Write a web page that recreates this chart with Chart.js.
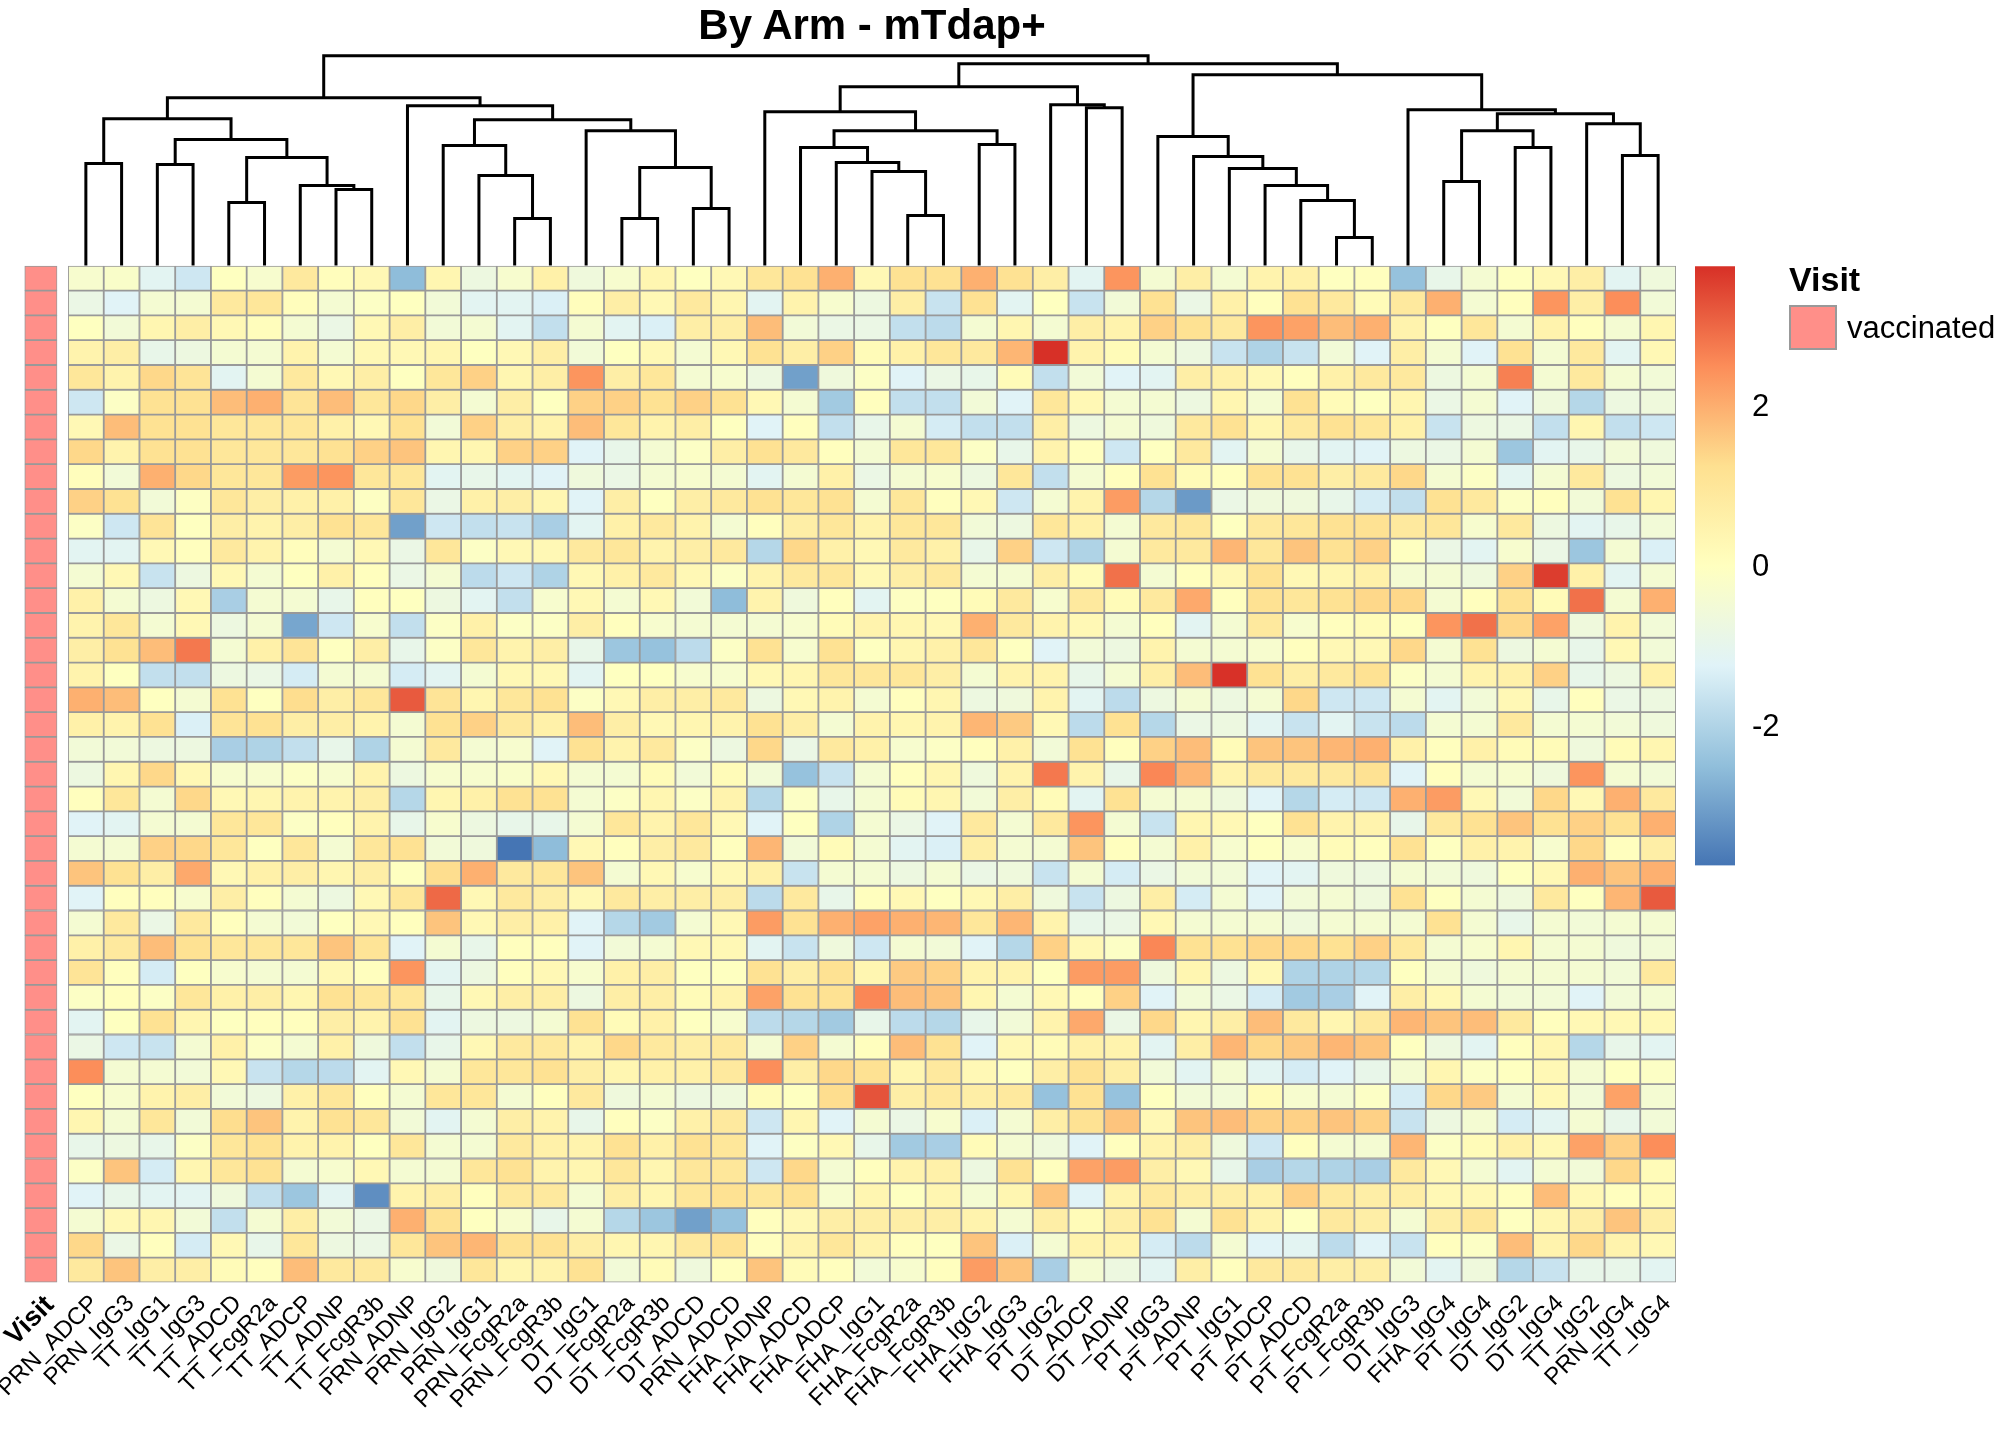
<!DOCTYPE html>
<html>
<head>
<meta charset="utf-8">
<script src="https://cdn.jsdelivr.net/npm/chart.js@4.4.1/dist/chart.umd.min.js"></script>
<style>
  html, body { margin: 0; padding: 0; background: #fff; }
  #page { position: relative; width: 2016px; height: 1440px; overflow: hidden;
          font-family: 'Liberation Sans', Arial, sans-serif; color: #000; }
  #page canvas { position: absolute; left: 0; top: 0; }
  .title { position: absolute; left: 0; width: 1744px; top: 3px; line-height: 44px;
           text-align: center; font-weight: bold; font-size: 42px; }
  .legTitle { position: absolute; left: 1789px; top: 260px; line-height: 38px;
              font-weight: bold; font-size: 34px; }
  .legKey { position: absolute; left: 1789px; top: 305px; width: 48px; height: 45px;
            box-sizing: border-box; border: 2px solid #999999; background: #FF8F89; }
  .legText { position: absolute; left: 1847px; top: 310px; line-height: 36px; font-size: 31px; }
</style>
</head>
<body>
<div id="page">
  <canvas id="dendro" width="2016" height="1440"></canvas>
  <canvas id="annot" width="2016" height="1440"></canvas>
  <canvas id="heat" width="2016" height="1440"></canvas>
  <canvas id="scale" width="2016" height="1440"></canvas>
  <div class="title">By Arm - mTdap+</div>
  <div class="legTitle">Visit</div>
  <div class="legKey"></div>
  <div class="legText">vaccinated</div>
</div>
<script>
// column names, in dendrogram order
const colNames = ['PRN_ADCP', 'PRN_IgG3', 'TT_IgG1', 'TT_IgG3', 'TT_ADCD', 'TT_FcgR2a', 'TT_ADCP', 'TT_ADNP',
  'TT_FcgR3b', 'PRN_ADNP', 'PRN_IgG2', 'PRN_IgG1', 'PRN_FcgR2a', 'PRN_FcgR3b', 'DT_IgG1', 'DT_FcgR2a',
  'DT_FcgR3b', 'DT_ADCD', 'PRN_ADCD', 'FHA_ADNP', 'FHA_ADCD', 'FHA_ADCP', 'FHA_IgG1', 'FHA_FcgR2a',
  'FHA_FcgR3b', 'FHA_IgG2', 'FHA_IgG3', 'PT_IgG2', 'DT_ADCP', 'DT_ADNP', 'PT_IgG3', 'PT_ADNP', 'PT_IgG1',
  'PT_ADCP', 'PT_ADCD', 'PT_FcgR2a', 'PT_FcgR3b', 'DT_IgG3', 'FHA_IgG4', 'PT_IgG4', 'DT_IgG2', 'DT_IgG4',
  'TT_IgG2', 'PRN_IgG4', 'TT_IgG4'];

const annotLabel = ['Visit'];
const visitLevel = 'vaccinated';

// scaled values, one array per row (top to bottom)
const s01 = [-0.3,-0.2,-1.1,-1.5,0,-0.3,0.9,0.1,0.3,-2.5,0.4,-0.7,-0.3,0.6,-0.6, -0.3,0.4,0,0.3,1.0,1.2,2.0,0.3,1.2,1.2,2.0,1.2,0.7,-1.1,2.4, -0.4,0.7,-0.4,0.5,0.6,0,0.05,-2.4,-0.9,-0.4,0,0.3,0.7,-1.1,-0.6];
const s02 = [-0.8,-1.2,-0.4,-0.4,0.9,1.0,0.1,-0.4,-0.1,0,-0.5,-1.1,-1.1,-1.3,0.1, 0.7,0.3,0.9,0.4,-1.1,0.5,-0.3,-0.7,0.7,-1.6,1.2,-1.1,0,-1.6,-0.5, 1.2,-0.8,0.6,0.05,1.2,0.9,0.2,0.9,2.0,-0.4,0.05,2.4,0.7,2.5,-0.5];
const s03 = [0,-0.5,0.4,0.7,0.3,0.1,-0.4,-0.8,0.3,0.7,-0.5,-0.4,-1.1,-1.7,-0.4, -1.1,-1.3,0.7,0.7,1.8,-0.5,-0.8,-0.8,-1.7,-1.8,-0.4,0.4,-0.4,0.7,0.5, 1.5,1.2,0.9,2.4,2.2,1.8,2.0,0.5,0,1.0,-0.4,0.5,0.05,-0.4,0.4];
const s04 = [0.5,0.7,-0.9,-0.7,-0.4,-0.4,0.5,-0.4,0.3,0.3,0.4,0,0.3,0.7,-0.5, 0,0.3,-0.4,0.3,1.2,0.7,1.5,0.2,0.6,1.0,0.9,1.9,3.77,0.5,0.2, -0.4,-0.7,-1.6,-2.0,-1.6,-0.5,-1.2,0.7,-0.4,-1.2,1.2,-0.4,0.9,-1.1,0.3];
const s05 = [1.0,0.5,1.4,1.1,-1.1,-0.4,0.9,0.3,0.7,0,1.0,1.5,0.4,0.7,2.4, 0.7,1.0,-0.4,-0.3,-0.7,-3.0,-0.6,-0.1,-1.2,-0.8,-0.9,0.2,-1.7,-0.5,-1.2, -1.1,0.7,0.6,0.3,0.05,0.6,0.9,0.9,-0.7,-0.4,2.7,-0.4,0.9,-0.4,-0.5];
const s06 = [-1.5,-0.1,1.2,1.2,1.8,2.0,1.1,1.8,1.0,1.4,0.7,-0.4,0.7,0,1.5, 1.5,1.2,1.5,1.2,0.3,-0.4,-2.2,0.05,-1.7,-1.7,-0.5,-1.2,1.0,0.3,-0.4, -0.4,-0.7,0.4,-0.4,1.2,0.2,0,0.4,-0.8,-0.4,-1.2,-0.6,-1.9,-0.7,-0.6];
const s07 = [0.3,1.8,1.2,1.2,1.0,1.0,1.0,0.6,0.3,1.2,-0.5,1.5,0.7,0.5,1.8, 1.0,0.5,0.7,0,-1.2,0.05,-1.7,-0.9,-0.4,-1.4,-1.7,-1.7,0.7,-0.7,-0.4, -0.6,0.9,1.2,0.4,0.9,1.2,1.0,0.6,-1.6,-0.7,-0.8,-1.7,0.4,-1.7,-1.5];
const s08 = [1.4,0.5,1.2,1.2,1.0,1.0,1.0,1.2,1.5,1.7,0.4,0.4,1.5,1.5,-1.2, -0.9,-0.4,-0.1,0.7,1.2,0.9,0.05,-0.4,1.0,1.0,-0.1,-0.9,0.5,0.05,-1.5, 0,0.9,-1.1,-0.4,-0.9,-1.1,-1.2,-0.7,-0.8,-0.4,-2.3,-1.1,-0.9,-0.5,-0.6];
const s09 = [0.1,-0.5,2.0,1.4,1.0,1.0,2.3,2.4,1.0,1.0,-1.1,-0.9,-1.1,-1.2,-0.6, -0.8,-0.4,-0.3,-0.4,-1.1,-0.4,0.6,-0.8,-0.4,-0.3,-0.7,1.0,-1.7,-0.4,0.05, 1.2,0.2,0.05,1.2,1.2,0.7,0.9,1.4,-0.4,-0.1,-1.1,-0.4,0.9,-0.7,-0.5];
const s10 = [1.5,1.2,-0.5,-0.05,1.0,0.7,0.6,0.6,-0.05,1.0,-0.8,0.6,0.7,0.4,-1.2, 0.7,0,0.7,0.9,1.2,1.0,1.2,-0.4,1.0,0.05,0.3,-1.5,-0.4,0.5,2.3, -1.9,-3.1,-0.8,-0.6,-0.6,-0.9,-1.4,-1.7,1.2,0.9,-0.1,0.05,-0.5,1.2,0.4];
const s11 = [-0.1,-1.5,1.1,0,0.7,0.5,0.7,1.2,1.0,-3.0,-1.5,-1.7,-1.6,-2.1,-1.1, 0.6,0.9,0.5,-0.4,0.05,0.7,1.0,0.5,1.0,1.0,-0.5,-0.7,1.0,0.6,-0.4, 0.9,1.0,0,0.9,1.0,1.2,1.2,0.9,1.0,-0.3,0.9,-0.7,-1.1,-0.9,-0.5];
const s12 = [-1.1,-1.1,0.3,0.05,0.9,0.5,0.1,-0.4,0.3,-0.8,1.0,-0.1,0.3,0.3,0.9, 1.0,0.5,0.7,0.9,-1.9,1.4,0.6,0.3,0.9,0.6,-0.9,1.5,-1.5,-2.0,-0.4, 0.9,0.9,1.9,1.0,1.7,1.2,1.5,0,-0.8,-1.1,-0.3,-0.8,-2.3,-0.4,-1.3];
const s13 = [-0.4,0.3,-1.6,-0.7,0.3,-0.4,0,0.6,0.05,-0.8,-0.4,-1.8,-1.5,-2.0,0.3, 0.6,0.9,0.3,-0.1,0.5,0.9,1.0,0.3,0.7,0.9,-0.4,-0.4,0.7,0.2,2.9, -0.4,0.05,0.3,1.2,0.3,0.4,0.6,-0.4,-0.4,-0.6,1.5,3.6,0.6,-1.1,-0.4];
const s14 = [0.6,-0.4,-0.7,0.3,-2.1,-0.4,-0.4,-0.9,0.05,0,-0.7,-1.1,-1.7,-0.3,0.3, -0.4,0.3,-0.5,-2.5,0.5,-0.6,0.05,-1.1,-0.05,0,0.2,0.9,-0.3,0.9,0.2, 0.9,2.1,0.05,1.2,1.0,1.2,1.4,1.4,-0.4,0.05,1.2,0.2,2.9,-0.4,2.0];
const s15 = [0.5,1.0,-0.4,0.3,-0.7,-0.4,-2.9,-1.5,-0.3,-1.7,-0.1,0.6,-0.1,-0.1,0.7, 0.05,-0.3,-0.4,-0.4,-0.4,-0.3,0.2,0.5,0.4,0.3,2.0,0.9,0.5,0.3,-0.4, 0.05,-1.1,-0.4,0.9,-0.3,0.05,0.2,0,2.4,2.9,1.4,2.2,-0.6,0.5,-0.5];
const s16 = [0.7,1.2,1.8,2.8,-0.4,0.6,1.1,0,0.7,-0.9,-0.1,1.0,0.5,0.7,-0.9, -2.3,-2.4,-1.8,-0.1,1.2,-0.3,1.2,0,0.4,0.6,1.0,0,-1.2,-0.5,-0.7, 0.5,-0.4,-0.4,-0.3,0.05,0.3,0.3,1.4,-0.4,1.2,-0.7,-0.4,-0.9,0.3,-0.5];
const s17 = [0.5,0,-1.7,-1.7,-0.7,-0.8,-1.4,-0.4,-0.4,-1.4,-1.1,-0.4,0.3,0.3,-1.1, 0,0,-0.3,-0.3,0.3,0.4,1.0,1.0,1.0,0.7,-0.4,0.5,0.5,-0.9,-0.4, 0.7,1.8,3.75,1.2,0.7,0.9,1.2,-0.1,-0.4,0.5,0.6,1.5,-0.9,-0.7,0.6];
const s18 = [2.0,1.8,0,-0.4,1.2,0,1.3,0.7,1.0,3.2,1.1,0.4,1.0,1.2,-0.1, 0.3,0.7,0.7,0.9,-0.7,0.3,0.5,-0.4,0.05,0.4,-0.7,-0.6,0.5,-1.1,-1.8, -0.7,-0.4,-0.7,-0.4,1.4,-1.5,-1.5,-0.4,-1.1,-0.5,0.3,-0.9,0.05,-0.8,-0.7];
const s19 = [0.6,0.5,1.2,-1.3,1.1,1.2,0.7,0.7,0.5,-0.4,1.2,1.5,0.9,0.6,1.8, 0.7,0.3,0.4,0.5,1.2,0.7,-0.4,0.5,0.4,0.5,1.9,1.6,0.3,-1.8,1.2, -1.9,-0.8,-0.7,-1.1,-1.6,-1.1,-1.6,-1.8,-0.4,-0.4,0.9,-0.4,-0.4,-0.5,-0.6];
const s20 = [-0.5,-0.5,-0.7,-0.7,-2.1,-2.0,-1.7,-0.9,-2.0,-0.4,0.9,-0.4,-0.3,-1.2,1.2, 0.5,0.9,-0.1,-0.7,1.4,-0.8,0.9,0.6,-0.3,-0.1,0.05,0.6,-0.5,1.2,0.05, 1.5,1.8,0.2,1.7,1.7,1.9,2.0,0.6,0.05,0.6,0.2,0.2,-0.6,0.2,0.4];
const s21 = [-0.7,0.4,1.4,0.3,-0.3,-0.3,-0.1,-0.3,0.5,-0.7,-0.3,-0.3,-0.2,0.3,-0.4, -0.4,0.2,-0.5,0.2,-0.5,-2.4,-1.6,-0.4,0.05,0.4,-0.6,0.5,2.8,0.5,-0.9, 2.6,1.9,0.5,0.9,0.9,0.9,1.2,-1.2,0.05,-0.4,-0.3,-0.6,2.4,-0.4,-0.5];
const s22 = [0.05,1.0,-0.4,1.4,0.3,0.4,0.5,0.5,0.7,-1.9,0.4,0.6,1.2,1.2,-0.4, -0.1,0.4,-0.1,0.5,-1.9,-0.1,-0.9,-0.4,0.2,0.4,-0.5,0.7,0.2,-1.1,1.2, -0.4,-0.4,-0.6,-1.2,-1.9,-1.4,-1.5,2.0,2.3,0.3,-0.5,1.4,0.3,2.0,0.9];
const s23 = [-1.2,-1.1,-0.4,-0.4,1.0,1.0,-0.1,0.05,0.5,-0.9,-0.3,-0.7,-0.9,-0.9,-0.4, 1.0,0.5,1.0,0.3,-1.2,0,-2.0,-0.4,-0.8,-1.2,0.9,-0.4,0.9,2.4,-0.4, -1.6,0.4,0.3,0,1.2,0.5,0.5,-0.9,0.9,1.2,1.7,1.2,1.5,1.2,2.0];
const s24 = [-0.4,-0.4,1.5,1.4,1.0,0,1.0,-0.4,1.0,1.2,-0.5,-0.6,-3.72,-2.5,0.3, 0.05,0.7,0.9,0.05,1.9,-0.5,0.2,-0.4,-1.1,-1.3,0.7,-0.4,-0.4,1.7,0.05, -0.4,0.6,-0.3,0,-0.3,0.2,0.05,1.2,0,0.6,0.5,-0.3,1.4,0.05,0.7];
const s25 = [1.7,1.2,0.7,2.1,0.3,0.6,0.7,0.4,0.7,0,1.3,2.0,0.9,1.0,1.7, -0.4,0.3,-0.3,0.3,0.6,-1.6,-0.4,-0.4,-0.7,-0.4,-0.8,-0.6,-1.6,-0.4,-1.4, -0.8,-0.5,-0.5,-1.2,-1.1,-0.6,-0.7,-0.4,-0.5,-0.6,0,0.3,2.0,1.7,2.0];
const s26 = [-1.2,0.05,0.05,-0.3,0.7,0.05,-0.4,-0.7,0.3,1.0,3.0,0.3,0.9,0.7,0.3, 0.9,0.7,0.7,0.7,-1.8,0.9,-0.9,0.05,0.3,0,0.3,0.7,-0.6,-1.6,-0.7, 0.7,-1.4,-0.4,-1.2,-0.5,-0.4,-0.6,1.2,0,-0.4,-0.6,0.9,0,1.9,3.2];
const s27 = [-0.4,0.9,-0.8,0.9,0.05,-0.4,-0.5,0,0.3,0.05,1.7,0.3,0.7,0.6,-1.2, -1.9,-2.2,-0.4,0.3,2.3,1.2,2.0,2.2,2.0,1.9,1.0,1.9,0.5,-0.9,-0.8, 0.3,-0.4,-0.4,-0.4,-0.6,-0.4,-0.4,-0.4,1.2,-0.4,-0.9,-0.4,-0.5,-0.4,-0.4];
const s28 = [0.6,0.9,1.8,1.2,1.0,1.0,1.0,1.7,1.1,-1.2,-0.4,-0.9,0.05,0.05,-1.2, -0.5,-0.4,0.3,0.3,-1.1,-1.6,-0.6,-1.5,-0.4,-0.5,-1.2,-1.9,1.5,0.3,-0.1, 2.6,1.2,1.2,1.4,1.4,1.2,1.5,0.9,-0.4,-0.3,0.4,-0.4,-0.4,-0.6,-0.5];
const s29 = [1.1,0.05,-1.4,0,-0.3,-0.4,-0.4,0.3,0.05,2.4,-1.1,-0.7,0.05,0.3,-0.3, 0.6,0.7,0,0,1.2,0.7,1.2,0.4,1.6,1.5,0.5,0.5,0,2.3,2.3, -0.6,0.4,-0.7,0.3,-2.0,-2.0,-1.9,0,-0.4,-0.6,-0.4,-0.4,-0.4,-0.5,0.9];
const s30 = [-0.1,0.05,-0.1,1.0,0.6,0.7,0.4,1.2,1.0,1.0,-0.9,0.3,0.7,0.7,-0.7, 0.7,0.7,0.2,0.5,2.2,1.2,1.2,2.6,1.8,1.7,0.4,-0.4,0.3,0.05,1.5, -1.2,-0.5,-0.8,-1.4,-2.2,-2.1,-1.2,0.7,0.3,-0.4,-0.5,-0.5,-1.2,-0.5,-0.4];
const s31 = [-1.1,0,1.2,0.4,0,0.05,0.05,0.7,0.5,1.2,-1.1,-0.7,-0.7,-0.4,1.2, 0.2,0.6,0,-0.3,-1.8,-1.9,-2.2,-0.9,-1.8,-1.9,-0.9,-0.5,0.5,2.1,-0.8, 1.4,0.4,0.7,1.8,0.9,0.4,0.9,1.9,1.7,1.8,0.9,0.05,0.3,0.3,0.3];
const s32 = [-0.8,-1.5,-1.6,-0.4,0.6,-0.1,-0.4,0.6,-0.6,-1.7,-0.9,0.3,0.9,0.9,0.5, 1.4,0.9,0.7,0.9,-0.4,1.5,-0.4,0.05,1.8,1.2,-1.2,0.3,0.2,0.6,0.5, -1.1,0.7,1.9,1.4,1.6,1.9,1.7,0,-0.7,-1.1,0.05,0.4,-1.9,-0.9,-1.1];
const s33 = [2.5,-0.4,-0.4,-0.5,0.3,-1.6,-1.9,-1.8,-1.1,0.3,-0.4,1.0,1.0,1.2,0.7, 0.4,0.6,0.6,0.9,2.5,0.7,1.4,1.2,0.4,0.9,0.3,0,0.7,1.2,0.7, -0.5,-1.1,-0.4,-1.1,-1.4,-1.2,-0.9,-0.4,0.4,-0.1,0,0.3,-0.4,0,-0.1];
const s34 = [0,-0.3,0.5,0.7,-0.5,-0.7,0.6,1.0,0.05,-0.4,1.0,1.0,-0.4,0.05,0.9, -0.6,-0.4,-0.7,-0.6,0.2,0,1.3,3.3,0.7,0.9,0.7,0.9,-2.4,1.2,-2.4, 0,-0.5,-0.5,0.2,-0.3,-0.4,-0.1,-1.4,1.4,1.6,-0.4,0.3,-0.5,2.2,-0.4];
const s35 = [0.4,-0.4,1.0,-0.5,1.3,1.7,0.5,1.2,1.0,-0.5,-1.1,-0.4,0.7,0.5,-0.9, 0.05,-0.1,0.6,0.9,-1.5,0.4,-1.2,-0.4,-0.8,-0.3,-1.3,-0.4,0.7,1.2,1.7, 0.3,1.7,1.8,1.5,1.5,1.7,1.5,-1.6,-0.7,-0.4,-1.4,-1.1,-0.4,-0.9,-0.5];
const s36 = [-0.9,-0.7,-0.9,-0.1,1.0,1.2,0.5,0.5,0,1.0,-0.4,-0.4,0.9,0.6,0.5, 1.2,0.6,1.2,1.0,-1.2,-0.05,0.3,-0.9,-2.2,-2.1,0.2,-0.4,-0.6,-1.2,0.05, 0.5,0.7,-0.6,-1.5,0.05,-0.4,-0.4,1.9,-0.1,0.2,0.6,0.3,2.2,1.5,2.5];
const s37 = [-0.1,1.7,-1.4,0.4,1.0,1.2,-0.4,-0.3,0.3,-0.4,-0.4,1.0,1.2,0.5,0.4, 1.0,0.4,1.0,1.0,-1.5,1.4,-0.4,0.05,0.5,0.6,-0.7,1.2,0.05,2.2,2.3, 0.7,0.3,-0.9,-2.1,-1.9,-2.0,-2.1,0.9,0.3,-0.4,-1.1,-0.4,-0.5,1.4,0.2];
const s38 = [-1.2,-0.9,-1.1,-1.1,-0.6,-1.7,-2.3,-1.1,-3.3,0.5,0.7,0.05,0.9,0.9,-0.4, 0.7,0.4,1.0,1.2,1.0,1.2,-0.3,0.4,0,0.4,-0.4,0.4,1.7,-1.2,0.5, 0.9,0.7,0.7,0.6,1.5,0.9,0.7,0.7,0.3,0.3,0.05,1.8,0.3,0.05,0.2];
const s39 = [-0.4,0.3,0.4,-0.5,-1.7,-0.4,0.7,-0.5,-0.8,2.0,1.2,0,-0.3,-0.9,-0.4, -1.9,-2.3,-3.0,-2.4,0.05,0.3,0.7,0.7,0.7,0.7,0.5,-0.4,0.7,0.2,0.7, 1.2,-0.4,1.2,0.5,0,0.9,0.7,-0.4,0.7,1.0,0,0.4,0.7,1.7,0.7];
const s40 = [1.4,-0.8,0.05,-1.4,0.3,-0.9,1.0,-0.7,-0.8,1.0,1.7,1.9,1.2,1.2,0.7, 0.4,0.4,0.9,1.2,0.05,0.5,1.0,0.5,0.05,0,1.7,-1.3,-0.4,0.5,0.5, -1.4,-1.8,-0.4,-1.2,-1.1,-1.8,-1.2,-1.6,0.05,-0.1,1.8,0.5,1.4,0.5,0.3];
const s41 = [0.9,1.7,0.7,0.7,0.2,0.05,1.8,0.9,0.9,-0.3,-0.6,1.0,0.4,0.5,1.2, -0.5,0.2,-0.6,0.05,1.7,0.2,0.05,-0.5,-0.3,0.05,2.3,1.7,-2.1,-0.4,-0.7, -1.1,0.7,0.05,0.9,0.9,0.7,0.7,-0.5,-1.1,-0.6,-1.9,-1.6,-0.9,-0.9,-1.1];

// column dendrogram: [left, right, height], leaves are column indices
const colTree = [
  [
    [[0, 1, 102], [[2, 3, 101], [[4, 5, 63], [6, [7, 8, 76], 80], 108], 126], 147],
    [9, [[10, [11, [12, 13, 47], 90], 120], [14, [[15, 16, 47], [17, 18, 57], 98], 135], 146], 160],
    168
  ],
  [
    [[19, [[20, [21, [22, [23, 24, 50], 94], 103], 118], [25, 26, 121], 135], 154], [27, [28, 29, 158], 161], 179],
    [[30, [31, [32, [33, [34, [35, 36, 28], 65], 80], 97], 109], 129],
     [37, [[[38, 39, 84], [40, 41, 118], 135], [42, [43, 44, 110], 142], 152], 156], 191],
    202
  ],
  210
];

// colour key
const legendMin = -3.72;
const legendMax = 3.77;
const legendTicks = [-2, 0, 2];
const palette = ['#4575B4', '#91BFDB', '#E0F3F8', '#FFFFBF', '#FEE090', '#FC8D59', '#D73027'];

const rowsData = [s01, s02, s03, s04, s05, s06, s07, s08, s09, s10, s11, s12, s13, s14, s15, s16, s17, s18,
  s19, s20, s21, s22, s23, s24, s25, s26, s27, s28, s29, s30, s31, s32, s33, s34, s35, s36, s37, s38, s39, s40, s41];

const FONT = "'Liberation Sans', Arial, sans-serif";
Chart.defaults.font.family = FONT;
Chart.defaults.color = '#000';

const paletteRgb = palette.map(h => [1, 3, 5].map(i => parseInt(h.slice(i, i + 2), 16)));
function valueColor(v) {
  let t = (v - legendMin) / (legendMax - legendMin);
  t = Math.min(1, Math.max(0, t));
  const pos = t * (paletteRgb.length - 1);
  const i = Math.min(Math.floor(pos), paletteRgb.length - 2);
  const f = pos - i;
  const a = paletteRgb[i], b = paletteRgb[i + 1];
  return 'rgb(' + a.map((c, k) => Math.round(c + (b[k] - c) * f)).join(',') + ')';
}

// heatmap area on the page
const H_LEFT = 68, H_RIGHT = 1676, H_TOP = 265.8, H_BOTTOM = 1282.5;
const PAGE_W = 2016, PAGE_H = 1440;
const nRows = rowsData.length;

function labelAxis(bold, size) {
  return {
    stacked: true,
    grid: {display: false, drawTicks: false},
    border: {display: false},
    ticks: {autoSkip: false, minRotation: 45, maxRotation: 45, padding: 7, labelOffset: 9,
            color: '#000', font: {size: size, weight: bold ? 'bold' : 'normal'}},
    afterFit(scale) {
      scale.height = PAGE_H - H_BOTTOM;
      scale.paddingLeft = 0;
      scale.paddingRight = 0;
    }
  };
}

const common = {
  responsive: false,
  animation: false,
  events: [],
  devicePixelRatio: 1,
  plugins: {legend: {display: false}, tooltip: {enabled: false}, title: {display: false}}
};

// heatmap: one stacked bar per cell, bottom row first
const heatDatasets = rowsData.map((vals, r) => ({
  label: 'row ' + (r + 1),
  data: vals.map(() => 1),
  backgroundColor: vals.map(valueColor),
  borderColor: '#999999',
  borderWidth: 1.25,
  borderSkipped: false,
  barPercentage: 1,
  categoryPercentage: 1
})).reverse();

new Chart(document.getElementById('heat'), {
  type: 'bar',
  data: {labels: colNames, datasets: heatDatasets},
  options: Object.assign({}, common, {
    layout: {padding: {left: H_LEFT, right: PAGE_W - H_RIGHT, top: H_TOP, bottom: 0}},
    scales: {
      x: labelAxis(false, 24),
      y: {stacked: true, display: false, min: 0, max: nRows}
    }
  })
});

// row annotation column
new Chart(document.getElementById('annot'), {
  type: 'bar',
  data: {
    labels: annotLabel,
    datasets: rowsData.map((vals, r) => ({
      label: visitLevel,
      data: [1],
      backgroundColor: '#FF8F89',
      borderColor: '#999999',
      borderWidth: 1.25,
      borderSkipped: false,
      barPercentage: 1,
      categoryPercentage: 1
    }))
  },
  options: Object.assign({}, common, {
    layout: {padding: {left: 24.5, right: PAGE_W - 57.3, top: H_TOP, bottom: 0}},
    scales: {
      x: labelAxis(true, 27),
      y: {stacked: true, display: false, min: 0, max: nRows}
    }
  })
});

// dendrogram
const dendroSegments = [];
function walkTree(node) {
  if (typeof node === 'number') return {x: node + 0.5, h: 0};
  const a = walkTree(node[0]);
  const b = walkTree(node[1]);
  const h = node[2];
  dendroSegments.push([{x: a.x, y: a.h}, {x: a.x, y: h}, {x: b.x, y: h}, {x: b.x, y: b.h}]);
  return {x: (a.x + b.x) / 2, h: h};
}
walkTree(colTree);

new Chart(document.getElementById('dendro'), {
  type: 'scatter',
  data: {
    datasets: dendroSegments.map(pts => ({
      data: pts, showLine: true, borderColor: '#000', borderWidth: 3,
      pointRadius: 0, fill: false, tension: 0, clip: false
    }))
  },
  options: Object.assign({}, common, {
    layout: {padding: {left: H_LEFT, right: PAGE_W - H_RIGHT, top: 55.7, bottom: PAGE_H - 265.5}},
    scales: {
      x: {type: 'linear', display: false, min: 0, max: colNames.length},
      y: {type: 'linear', display: false, min: 0, max: colTree[2]}
    }
  })
});

// colour key bar
new Chart(document.getElementById('scale'), {
  type: 'bar',
  data: {
    labels: ['key'],
    datasets: [{
      data: [[legendMin, legendMax]],
      backgroundColor(c) {
        const chart = c.chart;
        if (!chart.chartArea) return palette[3];
        const y = chart.scales.y;
        const g = chart.ctx.createLinearGradient(0, y.getPixelForValue(legendMin), 0, y.getPixelForValue(legendMax));
        palette.forEach((col, i) => g.addColorStop(i / (palette.length - 1), col));
        return g;
      },
      borderWidth: 0,
      barPercentage: 1,
      categoryPercentage: 1
    }]
  },
  options: Object.assign({}, common, {
    layout: {padding: {left: 1695, right: PAGE_W - 1735 - 60, top: 266.3, bottom: PAGE_H - 865.5}},
    scales: {
      x: {display: false},
      y: {
        position: 'right', min: legendMin, max: legendMax,
        grid: {display: false, drawTicks: false},
        border: {display: false},
        ticks: {padding: 17, color: '#000', font: {size: 31}},
        afterBuildTicks(scale) { scale.ticks = legendTicks.map(v => ({value: v})); },
        afterFit(scale) { scale.width = 60; }
      }
    }
  })
});
</script>
</body>
</html>
